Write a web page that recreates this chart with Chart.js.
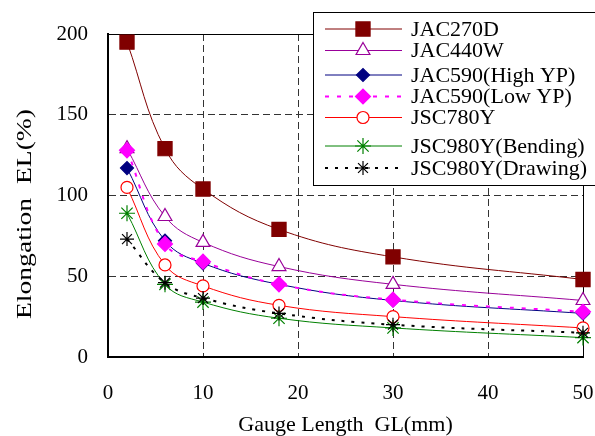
<!DOCTYPE html>
<html>
<head>
<meta charset="utf-8">
<script src="https://cdn.jsdelivr.net/npm/chart.js@4/dist/chart.umd.min.js"></script>
<style>
    html, body {
        margin: 0;
        padding: 0;
        background: #ffffff;
    }
    #box {
        width: 595px;
        height: 436px;
    }
</style>
</head>
<body>
<div id="box">
    <canvas id="elongationChart"></canvas>
</div>
<script>

const gaugeLength = [2, 6, 10, 18, 30, 50];

const jac270d    = [195, 129, 104, 79, 62, 48];
const jac440w    = [129, 87, 71, 56, 45, 35];
const jac590High = [117, 72, 58, 45, 35, 27];
const jac590Low  = [128, 70, 59, 45, 35.5, 28];
const jsc780y    = [105, 57, 44, 32, 25, 18];
const jsc980Bend = [89, 45, 34, 24, 18, 12];
const jsc980Draw = [73, 46, 36.5, 27, 20, 15];

const seriesNames = [
    "JAC270D",
    "JAC440W",
    "JAC590(High YP)",
    "JAC590(Low YP)",
    "JSC780Y",
    "JSC980Y(Bending)",
    "JSC980Y(Drawing)"
];

const xTicks = [0, 10, 20, 30, 40, 50];
const yTicks = [0, 50, 100, 150, 200];

const serif = "'Liberation Serif', 'Times New Roman', serif";

function points(values) {
    return gaugeLength.map(
        (x, i) => ({ x: x, y: values[i] })
    );
}

// colour, marker, line look for each series
const looks = [
    { color: "#800000", style: "rect",    radius: 10,  fill: "#800000", width: 1, dash: [] },
    { color: "#990099", style: "triangle", radius: 8,  fill: "#ffffff", width: 1, dash: [] },
    { color: "#000080", style: "rectRot", radius: 6.5, fill: "#000080", width: 1, dash: [] },
    { color: "#ff00ff", style: "rectRot", radius: 7.5, fill: "#ff00ff", width: 2, dash: [4, 8] },
    { color: "#ff0000", style: "circle",  radius: 6,   fill: "#ffffff", width: 1, dash: [] },
    { color: "#008000", style: "star",    radius: 8,   fill: "#008000", width: 1, dash: [] },
    { color: "#000000", style: "star",    radius: 7,   fill: "#000000", width: 2, dash: [3, 7] }
];

const allValues = [
    jac270d, jac440w, jac590High, jac590Low,
    jsc780y, jsc980Bend, jsc980Draw
];

const datasets =
    allValues.map((values, i) => ({
        label: seriesNames[i],
        data: points(values),
        borderColor: looks[i].color,
        borderWidth: looks[i].width,
        borderDash: looks[i].dash,
        tension: 0.4,
        pointStyle: looks[i].style,
        pointRadius: looks[i].radius,
        pointBackgroundColor: looks[i].fill,
        pointBorderColor: looks[i].color,
        pointBorderWidth: 1.2,
        clip: false,
        order: 10 - i
    }));

// thin frame on top and right of the plot
const framePlugin = {
    id: "frame",
    beforeDatasetsDraw(chart) {
        const a = chart.chartArea;
        const c = chart.ctx;
        c.save();
        c.strokeStyle = "#000000";
        c.lineWidth = 1;
        c.beginPath();
        c.moveTo(a.left, a.top + 0.5);
        c.lineTo(a.right + 0.5, a.top + 0.5);
        c.lineTo(a.right + 0.5, a.bottom);
        c.stroke();
        c.restore();
    }
};

// y title: lower than the axis middle and stretched along its length
const yTitlePlugin = {
    id: "yTitle",
    afterDraw(chart) {
        const c = chart.ctx;
        c.save();
        c.translate(26, 214);
        c.rotate(-Math.PI / 2);
        c.scale(1.38, 1);
        c.font = "20px " + serif;
        c.fillStyle = "#000000";
        c.textAlign = "center";
        c.textBaseline = "middle";
        c.fillText("Elongation  EL(%)", 0, 0);
        c.restore();
    }
};

// boxed legend drawn inside the plot, top right
const legendPlugin = {
    id: "boxLegend",
    afterDraw(chart) {
        const c = chart.ctx;
        const rows = [29, 50.5, 75, 96.5, 117.5, 146, 168];
        c.save();
        c.fillStyle = "#ffffff";
        c.fillRect(313, 12, 300, 173);
        c.strokeStyle = "#000000";
        c.lineWidth = 1;
        c.strokeRect(313.5, 12.5, 300, 173);

        chart.data.datasets.forEach((ds, i) => {
            const y = rows[i];
            c.save();
            c.strokeStyle = ds.borderColor;
            c.lineWidth = ds.borderWidth;
            c.setLineDash(ds.borderDash);
            c.beginPath();
            c.moveTo(325, y);
            c.lineTo(402, y);
            c.stroke();
            c.setLineDash([]);
            c.fillStyle = ds.pointBackgroundColor;
            c.strokeStyle = ds.pointBorderColor;
            c.lineWidth = ds.pointBorderWidth;
            Chart.helpers.drawPoint(c, {
                pointStyle: ds.pointStyle,
                radius: ds.pointRadius,
                borderWidth: ds.pointBorderWidth,
                rotation: 0
            }, 363, y);
            c.restore();

            c.font = "22px " + serif;
            c.fillStyle = "#000000";
            c.textAlign = "left";
            c.textBaseline = "middle";
            c.fillText(ds.label, 411, y + 1);
        });
        c.restore();
    }
};

function gridColor(ctx, max) {
    const v = ctx.tick ? ctx.tick.value : null;
    if (v === 0 || v === max) {
        return "rgba(0,0,0,0)";
    }
    return "#333333";
}

const ctx =
    document.getElementById("elongationChart");

new Chart(ctx, {
    type: "line",
    data: {
        datasets: datasets
    },
    plugins: [framePlugin, yTitlePlugin, legendPlugin],
    options: {
        responsive: true,
        maintainAspectRatio: false,
        animation: false,
        layout: {
            padding: { top: 34, right: 12, left: 0, bottom: 0 }
        },
        plugins: {
            legend: { display: false },
            tooltip: { enabled: false }
        },
        scales: {
            x: {
                type: "linear",
                min: 0,
                max: 50,
                afterBuildTicks: s => {
                    s.ticks = xTicks.map(v => ({ value: v }));
                },
                afterFit: s => {
                    s.height = 79;
                    s.paddingLeft = 0;
                    s.paddingRight = 0;
                },
                grid: {
                    color: c => gridColor(c, 50),
                    lineWidth: 1,
                    drawTicks: false
                },
                border: {
                    display: true,
                    color: "#000000",
                    width: 2,
                    dash: [7, 4]
                },
                ticks: {
                    color: "#000000",
                    padding: 24,
                    maxRotation: 0,
                    font: { family: serif, size: 21 }
                },
                title: {
                    display: true,
                    text: "Gauge Length  GL(mm)",
                    color: "#000000",
                    padding: { top: 0, bottom: -2 },
                    font: { family: serif, size: 22 }
                }
            },
            y: {
                type: "linear",
                min: 0,
                max: 200,
                afterBuildTicks: s => {
                    s.ticks = yTicks.map(v => ({ value: v }));
                },
                afterFit: s => {
                    s.width = 108;
                },
                grid: {
                    color: c => gridColor(c, 200),
                    lineWidth: 1,
                    drawTicks: false
                },
                border: {
                    display: true,
                    color: "#000000",
                    width: 2,
                    dash: [7, 4]
                },
                ticks: {
                    color: "#000000",
                    padding: 20,
                    font: { family: serif, size: 21 }
                }
            }
        }
    }
});

</script>
</body>
</html>
